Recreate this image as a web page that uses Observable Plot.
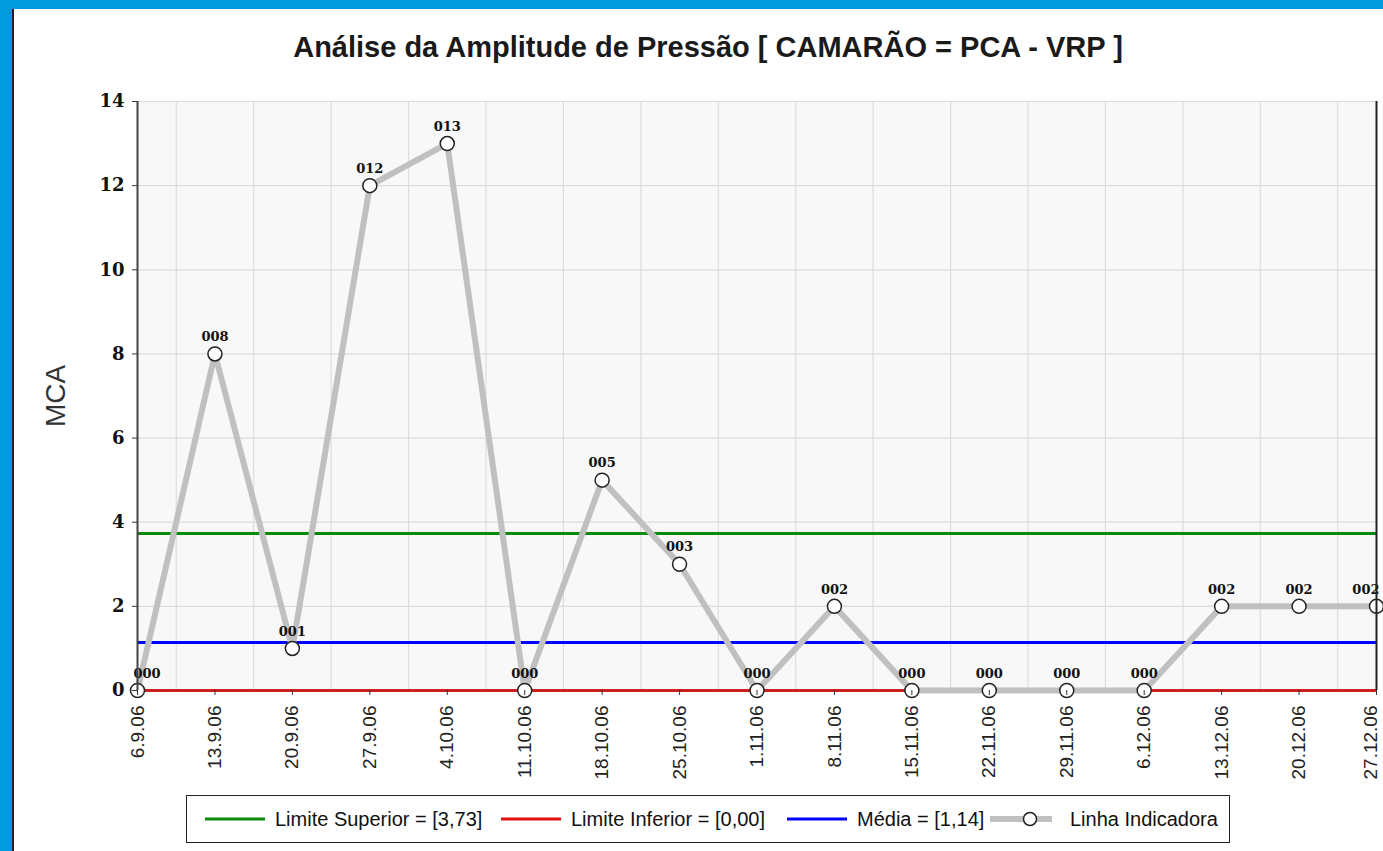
<!DOCTYPE html>
<html><head><meta charset="utf-8">
<script src="https://cdn.jsdelivr.net/npm/d3@7"></script>
<script src="https://cdn.jsdelivr.net/npm/@observablehq/plot@0.6"></script>
<style>
  html,body{margin:0;padding:0;background:#fff;}
  body{width:1383px;height:851px;position:relative;overflow:hidden;font-family:"Liberation Sans",Arial,sans-serif;}
  #blueTop{position:absolute;left:0;top:0;width:1383px;height:9px;background:#009ade;}
  #blueLeft{position:absolute;left:0;top:0;width:12px;height:851px;background:#009ade;}
  #darkLeft{position:absolute;left:12px;top:9px;width:2px;height:842px;background:#222;}
  #title{position:absolute;top:33px;left:708px;transform:translateX(-50%);white-space:nowrap;font-size:29px;line-height:29px;font-weight:bold;color:#1a1a1a;}
  #chart{position:absolute;left:14px;top:80px;}
  #legend{position:absolute;left:186px;top:795px;width:1044px;height:48px;border:1.5px solid #222;font-size:20px;color:#111;box-sizing:border-box;}
  .item{display:flex;align-items:center;position:absolute;top:0;height:100%;}
  .item svg{margin-right:10px;}
</style>
</head><body>
<div id="blueTop"></div><div id="blueLeft"></div><div id="darkLeft"></div>
<div id="title">Análise da Amplitude de Pressão [ CAMARÃO = PCA - VRP ]</div>
<div id="chart"></div>
<div id="legend"></div>
<script>
const dates = ["6.9.06","13.9.06","20.9.06","27.9.06","4.10.06","11.10.06","18.10.06","25.10.06","1.11.06","8.11.06","15.11.06","22.11.06","29.11.06","6.12.06","13.12.06","20.12.06","27.12.06"];
const values = [0,8,1,12,13,0,5,3,0,2,0,0,0,0,2,2,2];
const pointLabels = ["000","008","001","012","013","000","005","003","000","002","000","000","000","000","002","002","002"];
const yTicks = [0,2,4,6,8,10,12,14];
const limiteSuperior = 3.73;
const limiteInferior = 0.00;
const media = 1.14;
const legendNames = ["Limite Superior = [3,73]","Limite Inferior = [0,00]","Média = [1,14]","Linha Indicadora"];
const legendColors = ["#0a8a0a","#e01010","#0000ff","#c0c0c0"];

const data = dates.map((d,i)=>({i, date:d, value:values[i], label:pointLabels[i]}));
const idx = dates.map((d,i)=>i);
const mids = idx.slice(1).map(i=>i-0.5);
const last = dates.length-1;
const lblFont = {fontFamily:"'DejaVu Serif',serif", fontWeight:"bold", fontSize:13, fill:"#111", dy:-17};
const xAxisOpts = {tickFormat:i=>dates[i], tickSize:5, tickPadding:10, tickRotate:-90, label:null, fontSize:19, stroke:"#333", fill:"#222"};

const chart = Plot.plot({
  width:1369, height:700,
  marginLeft:123, marginRight:7, marginTop:21, marginBottom:90,
  x:{type:"linear", domain:[0,last]},
  y:{domain:[0,14]},
  style:{background:"transparent", fontFamily:"'Liberation Sans',Arial,sans-serif"},
  marks:[
    Plot.frame({fill:"#f8f8f8", stroke:null}),
    Plot.ruleX(mids,{stroke:"#dcdcdc", strokeWidth:1.2}),
    Plot.ruleY(yTicks.filter(t=>t>0),{stroke:"#dcdcdc", strokeWidth:1.2}),
    Plot.ruleY([limiteSuperior],{stroke:legendColors[0], strokeWidth:3}),
    Plot.ruleY([media],{stroke:legendColors[2], strokeWidth:3}),
    Plot.ruleY([limiteInferior],{stroke:"#cc1f1f", strokeWidth:3}),
    Plot.line(data,{x:"i", y:"value", stroke:"#c0c0c0", strokeWidth:6}),
    Plot.dot(data,{x:"i", y:"value", r:7, fill:"white", stroke:"#222", strokeWidth:1.5}),
    Plot.text(data.filter(d=>d.i>0 && d.i<last),{x:"i", y:"value", text:"label", ...lblFont}),
    Plot.text(data.filter(d=>d.i===0),{x:"i", y:"value", text:"label", dx:-4, textAnchor:"start", ...lblFont}),
    Plot.text(data.filter(d=>d.i===last),{x:"i", y:"value", text:"label", dx:3, textAnchor:"end", ...lblFont}),
    Plot.ruleX([0],{stroke:"#444", strokeWidth:2}),
    Plot.ruleX([last],{stroke:"#222", strokeWidth:2}),
    Plot.axisY({ticks:yTicks, tickSize:5, tickPadding:8, label:null, fontSize:18, fontFamily:"'DejaVu Serif',serif", fontWeight:"bold", stroke:"#333", fill:"#111"}),
    Plot.axisX({ticks:idx.slice(0,last), ...xAxisOpts}),
    Plot.axisX({ticks:[last], ...xAxisOpts}),
    Plot.text(["MCA"],{frameAnchor:"left", dx:-81, rotate:-90, fontSize:28, fill:"#333", textAnchor:"middle"})
  ]
});
document.getElementById("chart").appendChild(chart);

// nudge the last x tick label inside the picture
const lastAxis = chart.querySelectorAll('g[aria-label="x-axis tick label"]');
if (lastAxis.length > 1) {
  const g = lastAxis[lastAxis.length-1];
  g.setAttribute("transform", (g.getAttribute("transform")||"") + " translate(-6,0)");
}

const legend = document.getElementById("legend");
const itemX = [18, 314, 600, 803];
legendNames.forEach((name,k)=>{
  const it = document.createElement("div");
  it.className="item";
  it.style.left = itemX[k]+"px";
  let sw;
  if(k<3){
    sw = `<svg width="60" height="10"><line x1="0" y1="5" x2="60" y2="5" stroke="${legendColors[k]}" stroke-width="3"/></svg>`;
  } else {
    sw = `<svg width="70" height="16"><line x1="0" y1="8" x2="62" y2="8" stroke="${legendColors[k]}" stroke-width="6"/><circle cx="40" cy="8" r="6.5" fill="white" stroke="#222" stroke-width="1.5"/></svg>`;
  }
  it.innerHTML = sw + `<span>${name}</span>`;
  legend.appendChild(it);
});
</script>
</body></html>
